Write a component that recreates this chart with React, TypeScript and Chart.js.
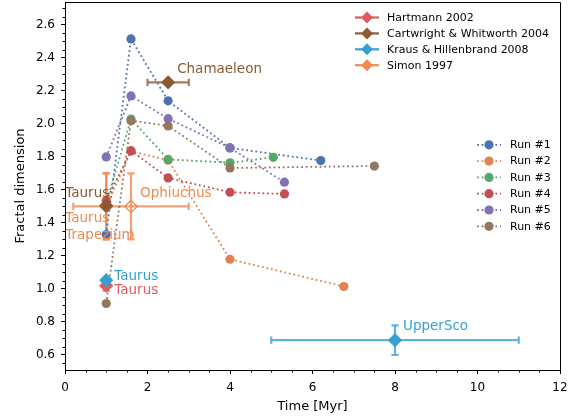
import React, { useEffect, useRef } from 'react';
import { Chart, registerables } from 'chart.js';

Chart.register(...registerables);

const FONT = 'DejaVu Sans';

// Axis ticks
const xTicks = [0, 2, 4, 6, 8, 10, 12];
const yTicks = [0.6, 0.8, 1.0, 1.2, 1.4, 1.6, 1.8, 2.0, 2.2, 2.4, 2.6];

// Simulation runs
const runLabels = ['Run #1', 'Run #2', 'Run #3', 'Run #4', 'Run #5', 'Run #6'];
const runColors = ['#4C72B0', '#DD8452', '#55A868', '#C44E52', '#8172B3', '#937860'];
const run1X = [1.0, 1.6, 2.5, 4.0, 6.2];
const run1Y = [1.33, 2.515, 2.14, 1.855, 1.778];
const run2X = [1.0, 1.6, 2.5, 4.0, 6.76];
const run2Y = [1.5, 1.835, 1.78, 1.18, 1.015];
const run3X = [1.0, 1.6, 2.5, 4.0, 5.05];
const run3Y = [1.52, 2.03, 1.785, 1.765, 1.798];
const run4X = [1.0, 1.6, 2.5, 4.0, 5.32];
const run4Y = [1.535, 1.838, 1.673, 1.586, 1.576];
const run5X = [1.0, 1.6, 2.5, 4.0, 5.32];
const run5Y = [1.8, 2.17, 2.032, 1.855, 1.647];
const run6X = [1.0, 1.6, 2.5, 4.0, 7.5];
const run6Y = [0.912, 2.02, 1.988, 1.733, 1.745];
const runXs = [run1X, run2X, run3X, run4X, run5X, run6X];
const runYs = [run1Y, run2Y, run3Y, run4Y, run5Y, run6Y];

// Observations
const obsLabels = ['Hartmann 2002', 'Cartwright & Whitworth 2004', 'Kraus & Hillenbrand 2008', 'Simon 1997'];
const obsColors = ['#DB5E5E', '#8B5A32', '#36A0D3', '#EF8B4F'];

const hartmannNames = ['Taurus'];
const hartmannX = [1.0];
const hartmannY = [1.02];
const hartmannXErr = [0];
const hartmannYErr = [0.03];

const cartwrightNames = ['Taurus', 'Chamaeleon'];
const cartwrightX = [1.0, 2.5];
const cartwrightY = [1.505, 2.252];
const cartwrightXErr = [0, 0.5];
const cartwrightYErr = [0, 0];

const krausNames = ['Taurus', 'UpperSco'];
const krausX = [1.0, 8.0];
const krausY = [1.053, 0.69];
const krausXErr = [0, 3.0];
const krausYErr = [0, 0.09];

const simonNames = ['Taurus', 'Trapezium', 'Ophiuchus'];
const simonX = [1.0, 1.0, 1.6];
const simonY = [1.5, 1.5, 1.5];
const simonXErr = [0, 0, 1.4];
const simonYErr = [0.2, 0.2, 0.2];
const simonHollow = [false, false, true];

// label placement (pixel offsets from the labelled point) - styling only
const labelOffsets: Record<string, [number, number][]> = {
  hartmann: [[8, 5]],
  cartwright: [[-41, -12], [9, -13]],
  kraus: [[8, -4], [8, -14]],
  simon: [[-41, 12], [-41, 29], [9, -13]],
};

const groups = [
  { key: 'hartmann', color: obsColors[0], names: hartmannNames, x: hartmannX, y: hartmannY, xe: hartmannXErr, ye: hartmannYErr, hollow: [false] },
  { key: 'cartwright', color: obsColors[1], names: cartwrightNames, x: cartwrightX, y: cartwrightY, xe: cartwrightXErr, ye: cartwrightYErr, hollow: [false, false] },
  { key: 'kraus', color: obsColors[2], names: krausNames, x: krausX, y: krausY, xe: krausXErr, ye: krausYErr, hollow: [false, false] },
  { key: 'simon', color: obsColors[3], names: simonNames, x: simonX, y: simonY, xe: simonXErr, ye: simonYErr, hollow: simonHollow },
];

function withAlpha(hex: string, a: number) {
  const r = parseInt(hex.slice(1, 3), 16);
  const g = parseInt(hex.slice(3, 5), 16);
  const b = parseInt(hex.slice(5, 7), 16);
  return `rgba(${r},${g},${b},${a})`;
}

const whiskerPlugin = {
  id: 'whiskers',
  beforeDatasetsDraw(chart: any) {
    const { ctx, scales } = chart;
    const xs = scales.x;
    const ys = scales.y;
    ctx.save();
    groups.forEach((g) => {
      ctx.strokeStyle = withAlpha(g.color, 0.8);
      ctx.lineWidth = 2.2;
      ctx.lineCap = 'butt';
      g.x.forEach((xv, i) => {
        const px = xs.getPixelForValue(xv);
        const py = ys.getPixelForValue(g.y[i]);
        const cap = 3.6;
        if (g.xe[i] > 0) {
          const l = xs.getPixelForValue(xv - g.xe[i]);
          const r = xs.getPixelForValue(xv + g.xe[i]);
          ctx.beginPath();
          ctx.moveTo(l, py); ctx.lineTo(r, py);
          ctx.moveTo(l, py - cap); ctx.lineTo(l, py + cap);
          ctx.moveTo(r, py - cap); ctx.lineTo(r, py + cap);
          ctx.stroke();
        }
        if (g.ye[i] > 0) {
          const t = ys.getPixelForValue(g.y[i] + g.ye[i]);
          const b = ys.getPixelForValue(g.y[i] - g.ye[i]);
          ctx.beginPath();
          ctx.moveTo(px, t); ctx.lineTo(px, b);
          ctx.moveTo(px - cap, t); ctx.lineTo(px + cap, t);
          ctx.moveTo(px - cap, b); ctx.lineTo(px + cap, b);
          ctx.stroke();
        }
      });
    });
    ctx.restore();
  },
  afterDatasetsDraw(chart: any) {
    const { ctx, scales } = chart;
    ctx.save();
    ctx.font = `13.5px "${FONT}"`;
    ctx.textBaseline = 'middle';
    ctx.textAlign = 'left';
    groups.forEach((g) => {
      ctx.fillStyle = g.color;
      g.names.forEach((name, i) => {
        const off = labelOffsets[g.key][i];
        const px = scales.x.getPixelForValue(g.x[i]);
        const py = scales.y.getPixelForValue(g.y[i]);
        ctx.fillText(name, px + off[0], py + off[1]);
      });
    });
    ctx.restore();
  },
  afterDraw(chart: any) {
    const { ctx, chartArea, scales } = chart;
    const { left, right, top, bottom } = chartArea;
    ctx.save();
    // frame
    ctx.strokeStyle = '#000';
    ctx.lineWidth = 1;
    ctx.beginPath();
    ctx.rect(Math.round(left) + 0.5, Math.round(top) + 0.5, Math.round(right - left), Math.round(bottom - top));
    ctx.stroke();
    // minor ticks
    ctx.beginPath();
    for (let k = 0; k <= 24; k++) {
      if (k % 4 === 0) continue;
      const px = Math.round(scales.x.getPixelForValue(k * 0.5)) + 0.5;
      ctx.moveTo(px, bottom);
      ctx.lineTo(px, bottom + 2.5);
    }
    for (let k = 11; k <= 54; k++) {
      if (k % 4 === 0) continue;
      const py = Math.round(scales.y.getPixelForValue(k * 0.05)) + 0.5;
      ctx.moveTo(left, py);
      ctx.lineTo(left - 2.5, py);
    }
    ctx.stroke();

    // legends
    ctx.font = `11px "${FONT}"`;
    ctx.textBaseline = 'middle';
    ctx.textAlign = 'left';
    obsLabels.forEach((lab, i) => {
      const y = 17.5 + i * 15.9;
      const c = obsColors[i];
      ctx.strokeStyle = c;
      ctx.lineWidth = 2.2;
      ctx.beginPath();
      ctx.moveTo(355, y); ctx.lineTo(379, y);
      ctx.stroke();
      ctx.fillStyle = c;
      ctx.beginPath();
      ctx.moveTo(367, y - 6); ctx.lineTo(373, y); ctx.lineTo(367, y + 6); ctx.lineTo(361, y);
      ctx.closePath();
      ctx.fill();
      ctx.fillStyle = '#000';
      ctx.fillText(lab, 387, y + 0.5);
    });
    runLabels.forEach((lab, i) => {
      const y = 144.8 + i * 16.3;
      const c = runColors[i];
      ctx.strokeStyle = c;
      ctx.lineWidth = 1.8;
      ctx.setLineDash([1.8, 2.8]);
      ctx.beginPath();
      ctx.moveTo(477, y); ctx.lineTo(501, y);
      ctx.stroke();
      ctx.setLineDash([]);
      ctx.fillStyle = c;
      ctx.beginPath();
      ctx.arc(489, y, 4.6, 0, Math.PI * 2);
      ctx.fill();
      ctx.fillStyle = '#000';
      ctx.fillText(lab, 510, y + 0.5);
    });
    ctx.restore();
  },
};

export default function App() {
  const ref = useRef<HTMLCanvasElement | null>(null);
  useEffect(() => {
    if (!ref.current) return;
    const runDatasets = runLabels.map((lab, i) => ({
      label: lab,
      data: runXs[i].map((x, j) => ({ x, y: runYs[i][j] })),
      showLine: true,
      borderColor: runColors[i],
      backgroundColor: runColors[i],
      borderWidth: 1.8,
      borderDash: [1.8, 2.8],
      borderCapStyle: 'butt',
      pointRadius: 4.6,
      pointBorderWidth: 0,
      pointBackgroundColor: runColors[i],
      order: 50 - i,
    }));
    const obsDatasets = groups.map((g, gi) => ({
      label: obsLabels[gi],
      data: g.x.map((x, j) => ({ x, y: g.y[j] })),
      showLine: false,
      pointStyle: 'rectRot',
      pointRadius: 6.2,
      pointBorderWidth: 1.3,
      pointBorderColor: g.color,
      pointBackgroundColor: g.hollow.map((h) => (h ? 'rgba(255,255,255,0)' : g.color)),
      order: g.key === 'simon' ? 100 : g.key === 'hartmann' ? 10 : g.key === 'kraus' ? 9 : 8,
    }));
    const tickFont = { family: FONT, size: 12 };
    const titleFont = { family: FONT, size: 13 };
    const chart = new Chart(ref.current, {
      type: 'scatter',
      data: { datasets: [...runDatasets, ...obsDatasets] as any },
      options: {
        animation: false,
        responsive: false,
        layout: { autoPadding: false, padding: { left: 0, right: 19, top: 2, bottom: 0 } },
        plugins: { legend: { display: false }, tooltip: { enabled: false } },
        scales: {
          x: {
            type: 'linear',
            min: 0,
            max: 12,
            afterBuildTicks: (s: any) => { s.ticks = xTicks.map((v) => ({ value: v })); },
            afterFit: (s: any) => { s.height = 46; s.paddingLeft = 0; s.paddingRight = 0; },
            grid: { drawOnChartArea: false, color: '#000', tickLength: 4, lineWidth: 1 },
            border: { color: '#000', width: 1 },
            ticks: { font: tickFont, color: '#000', padding: 7, maxRotation: 0, callback: (v: any) => String(v) },
            title: { display: true, text: 'Time [Myr]', font: titleFont, color: '#000', padding: { top: 0, bottom: 2 } },
          },
          y: {
            type: 'linear',
            min: 0.509,
            max: 2.739,
            afterBuildTicks: (s: any) => { s.ticks = yTicks.map((v) => ({ value: v })); },
            afterFit: (s: any) => { s.width = 65; s.paddingTop = 0; s.paddingBottom = 0; },
            grid: { drawOnChartArea: false, color: '#000', tickLength: 4, lineWidth: 1 },
            border: { color: '#000', width: 1 },
            ticks: { font: tickFont, color: '#000', padding: 6, callback: (v: any) => Number(v).toFixed(1) },
            title: { display: true, text: 'Fractal dimension', font: titleFont, color: '#000', padding: { top: 13, bottom: 0 } },
          },
        },
      } as any,
      plugins: [whiskerPlugin],
    });
    return () => chart.destroy();
  }, []);
  return (
    <div style={{ position: 'absolute', left: 0, top: 0, width: 579, height: 416, background: '#fff' }}>
      <canvas ref={ref} width={579} height={416} style={{ display: 'block' }} />
    </div>
  );
}
